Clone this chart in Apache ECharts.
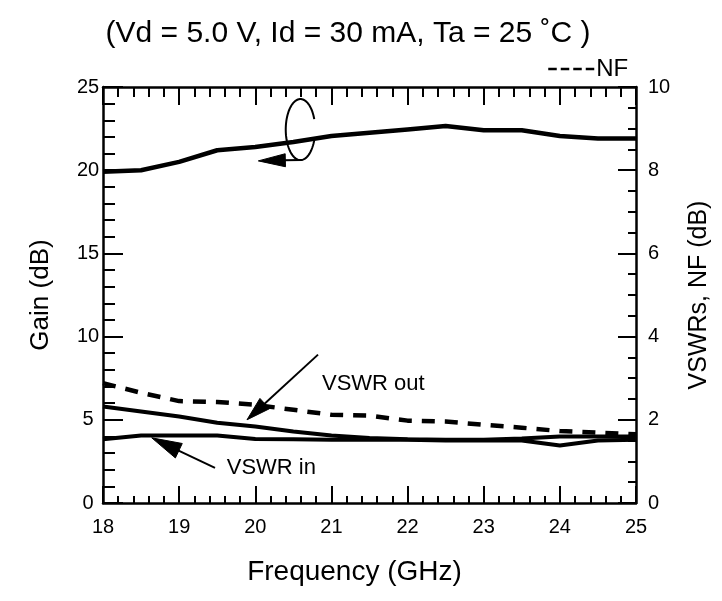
<!DOCTYPE html>
<html>
<head>
<meta charset="utf-8">
<script src="https://cdn.jsdelivr.net/npm/echarts@6/dist/echarts.min.js"></script>
<style>html,body{margin:0;padding:0;background:#fff}#c{width:722px;height:601px}</style>
</head>
<body>
<div id="c"></div>
<script>
// ---- data ----
var freqs   = [18, 18.5, 19, 19.5, 20, 20.5, 21, 21.5, 22, 22.5, 23, 23.5, 24, 24.5, 25];
var gain    = [19.9, 20.0, 20.5, 21.2, 21.4, 21.7, 22.05, 22.25, 22.45, 22.65, 22.4, 22.4, 22.05, 21.9, 21.9];
var nf      = [2.88, 2.65, 2.45, 2.43, 2.36, 2.24, 2.12, 2.10, 1.98, 1.96, 1.88, 1.81, 1.73, 1.69, 1.65];
var vswrOut = [2.32, 2.20, 2.08, 1.93, 1.84, 1.72, 1.62, 1.56, 1.53, 1.52, 1.52, 1.55, 1.60, 1.60, 1.60];
var vswrIn  = [1.53, 1.62, 1.62, 1.62, 1.54, 1.53, 1.52, 1.52, 1.52, 1.50, 1.50, 1.50, 1.38, 1.50, 1.52];
var xTicks  = [18, 19, 20, 21, 22, 23, 24, 25];
var gainTicks = [0, 5, 10, 15, 20, 25];
var rightTicks = [0, 2, 4, 6, 8, 10];
var titleText = '(Vd = 5.0 V, Id = 30 mA, Ta = 25 \u02DAC )';

function pairs(ys) { return freqs.map(function (f, i) { return [f, ys[i]]; }); }

var FONT = 'Liberation Sans, Arial, sans-serif';
var chart = echarts.init(document.getElementById('c'), null, {renderer: 'canvas'});

function xAxisCfg(pos, showLabel) {
  return {
    type: 'value', position: pos, min: xTicks[0], max: xTicks[xTicks.length - 1], interval: 1,
    axisLine: {show: true, onZero: false, lineStyle: {color: '#000', width: 2.5}},
    axisTick: {show: true, inside: true, length: pos === 'top' ? 18 : 17, lineStyle: {color: '#000', width: 2}},
    minorTick: {show: true, splitNumber: 5, length: pos === 'top' ? 10 : 7, lineStyle: {color: '#000', width: 2}},
    splitLine: {show: false},
    axisLabel: {show: showLabel, color: '#000', fontSize: 20, margin: 14, fontFamily: FONT},
    name: showLabel ? 'Frequency (GHz)' : '', nameLocation: 'middle', nameGap: 55,
    nameTextStyle: {color: '#000', fontSize: 28, fontFamily: FONT, padding: [0, 30, 0, 0]}
  };
}

chart.setOption({
  animation: false,
  backgroundColor: '#fff',
  title: {
    text: titleText, left: 343, top: 14, textAlign: 'center',
    textStyle: {color: '#000', fontSize: 30, fontWeight: 'normal', fontFamily: FONT}
  },
  legend: {
    data: ['NF'], left: 542, top: 52, itemWidth: 47, itemHeight: 14, itemGap: 0,
    lineStyle: {width: 2.5, type: [8.5, 4], color: '#000'},
    itemStyle: {opacity: 0},
    textStyle: {color: '#000', fontSize: 24, fontFamily: FONT, padding: [0, 0, 0, -4]}
  },
  grid: {left: 103, right: 86, top: 87, bottom: 98},
  xAxis: [xAxisCfg('bottom', true), xAxisCfg('top', false)],
  yAxis: [
    {
      type: 'value', position: 'left', min: gainTicks[0], max: gainTicks[gainTicks.length - 1], interval: 5,
      axisLine: {show: true, lineStyle: {color: '#000', width: 2.5}},
      axisTick: {show: true, inside: true, length: 20, lineStyle: {color: '#000', width: 2}},
      minorTick: {show: true, splitNumber: 5, length: 12, lineStyle: {color: '#000', width: 2}},
      splitLine: {show: false},
      axisLabel: {color: '#000', fontSize: 20, margin: 15, align: 'center', fontFamily: FONT},
      name: 'Gain (dB)', nameLocation: 'middle', nameGap: 49, nameRotate: 90,
      nameTextStyle: {color: '#000', fontSize: 26, fontFamily: FONT}
    },
    {
      type: 'value', position: 'right', min: rightTicks[0], max: rightTicks[rightTicks.length - 1], interval: 2,
      axisLine: {show: true, lineStyle: {color: '#000', width: 2.5}},
      axisTick: {show: true, inside: true, length: 18, lineStyle: {color: '#000', width: 2}},
      minorTick: {show: true, splitNumber: 4, length: 8, lineStyle: {color: '#000', width: 2}},
      splitLine: {show: false},
      axisLabel: {color: '#000', fontSize: 20, margin: 12, fontFamily: FONT},
      name: 'VSWRs, NF (dB)', nameLocation: 'middle', nameGap: 51, nameRotate: 90,
      nameTextStyle: {color: '#000', fontSize: 25, fontFamily: FONT}
    }
  ],
  series: [
    {name: 'Gain', type: 'line', xAxisIndex: 0, yAxisIndex: 0, data: pairs(gain), symbol: 'none',
     lineStyle: {color: '#000', width: 4.5}, itemStyle: {color: '#000'}, z: 3},
    {name: 'NF', type: 'line', xAxisIndex: 0, yAxisIndex: 1, data: pairs(nf), symbol: 'none',
     lineStyle: {color: '#000', width: 4.5, type: [13, 10]}, itemStyle: {color: '#000'}, z: 3},
    {name: 'VSWR out', type: 'line', xAxisIndex: 0, yAxisIndex: 1, data: pairs(vswrOut), symbol: 'none',
     lineStyle: {color: '#000', width: 4}, itemStyle: {color: '#000'}, z: 3},
    {name: 'VSWR in', type: 'line', xAxisIndex: 0, yAxisIndex: 1, data: pairs(vswrIn), symbol: 'none',
     lineStyle: {color: '#000', width: 4}, itemStyle: {color: '#000'}, z: 3}
  ]
});

// ---- annotations, anchored in data coordinates (left axis) ----
function P(f, g) { return chart.convertToPixel({xAxisIndex: 0, yAxisIndex: 0}, [f, g]); }
function arrowHead(tail, tip, len, hw) {
  var dx = tip[0] - tail[0], dy = tip[1] - tail[1], d = Math.sqrt(dx * dx + dy * dy);
  var ux = dx / d, uy = dy / d, bx = tip[0] - ux * len, by = tip[1] - uy * len;
  return {type: 'polygon', z: 10, shape: {points: [tip, [bx - uy * hw, by + ux * hw], [bx + uy * hw, by - ux * hw]]},
          style: {fill: '#000', stroke: '#000', lineWidth: 1}};
}
function arrowLine(tail, tip, len) {
  var dx = tip[0] - tail[0], dy = tip[1] - tail[1], d = Math.sqrt(dx * dx + dy * dy);
  var end = [tip[0] - dx / d * (len - 2), tip[1] - dy / d * (len - 2)];
  return {type: 'line', z: 10, shape: {x1: tail[0], y1: tail[1], x2: end[0], y2: end[1]},
          style: {stroke: '#000', lineWidth: 2}};
}
function label(pt, txt) {
  return {type: 'text', z: 10, x: pt[0], y: pt[1],
          style: {text: txt, fill: '#000', fontSize: 22, fontFamily: FONT, textAlign: 'left', textVerticalAlign: 'middle'}};
}

var outTail = P(20.824, 8.916), outTip = P(19.891, 5.0);
var inTail = P(19.471, 2.108), inTip = P(18.640, 3.916);
var gTail = P(20.610, 20.62), gTip = P(20.040, 20.56);
var eC = P(20.593, 22.44), eRx = 14.7, eRy = 30.5;
var ellPts = [];
for (var a = -20; a >= -346; a -= 4) {
  var r = a * Math.PI / 180;
  ellPts.push([eC[0] + eRx * Math.cos(r), eC[1] + eRy * Math.sin(r)]);
}

chart.setOption({
  graphic: [
    label(P(20.876, 7.169), 'VSWR out'),
    arrowLine(outTail, outTip, 24), arrowHead(outTail, outTip, 24, 7),
    label(P(19.625, 2.108), 'VSWR in'),
    arrowLine(inTail, inTip, 30), arrowHead(inTail, inTip, 30, 8),
    {type: 'polyline', z: 10, shape: {points: ellPts}, style: {fill: null, stroke: '#000', lineWidth: 2}},
    arrowLine(gTail, gTip, 27), arrowHead(gTail, gTip, 27, 6.5)
  ]
});
</script>
</body>
</html>
